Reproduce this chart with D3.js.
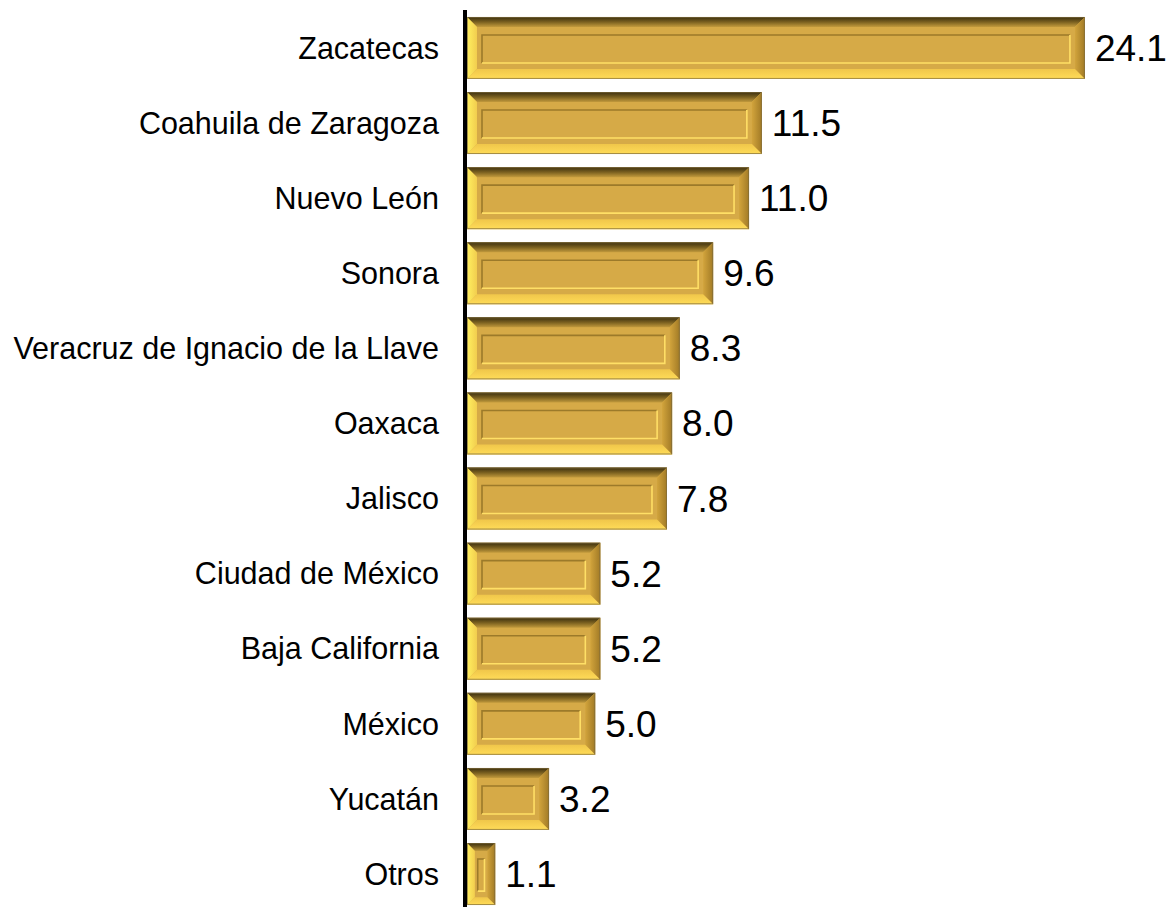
<!DOCTYPE html>
<html>
<head>
<meta charset="utf-8">
<script src="https://cdn.jsdelivr.net/npm/d3@7"></script>
<style>
  html, body { margin: 0; padding: 0; background: #fff; }
  svg { display: block; }
</style>
</head>
<body>
<svg id="chart" width="1168" height="907"></svg>
<script>
const categories = ["Zacatecas", "Coahuila de Zaragoza", "Nuevo León", "Sonora",
  "Veracruz de Ignacio de la Llave", "Oaxaca", "Jalisco", "Ciudad de México",
  "Baja California", "México", "Yucatán", "Otros"];
const values = [24.1, 11.5, 11.0, 9.6, 8.3, 8.0, 7.8, 5.2, 5.2, 5.0, 3.2, 1.1];
const valueLabels = ["24.1", "11.5", "11.0", "9.6", "8.3", "8.0", "7.8", "5.2", "5.2", "5.0", "3.2", "1.1"];

const svg = d3.select("#chart");
const W = 1168, H = 907;
const x0 = 467;
const FONT = "'Liberation Sans', Arial, sans-serif";

const x = d3.scaleLinear().domain([0, 25]).range([x0, x0 + 25 * 25.64]);
const y = d3.scaleBand().domain(categories).range([10.4, 911.6]).paddingInner(0.175).paddingOuter(0.0875);

const defs = svg.append("defs");
const gTop = defs.append("linearGradient").attr("id", "gTop").attr("x1", 0).attr("y1", 0).attr("x2", 0).attr("y2", 1);
gTop.append("stop").attr("offset", 0).attr("stop-color", "#3a2e0e");
gTop.append("stop").attr("offset", 0.5).attr("stop-color", "#7a6020");
gTop.append("stop").attr("offset", 1).attr("stop-color", "#c29a3c");
const gRight = defs.append("linearGradient").attr("id", "gRight").attr("x1", 0).attr("y1", 0).attr("x2", 1).attr("y2", 0);
gRight.append("stop").attr("offset", 0).attr("stop-color", "#d2a43c");
gRight.append("stop").attr("offset", 1).attr("stop-color", "#a17a26");
const gLeft = defs.append("linearGradient").attr("id", "gLeft").attr("x1", 0).attr("y1", 0).attr("x2", 1).attr("y2", 0);
gLeft.append("stop").attr("offset", 0).attr("stop-color", "#fff060");
gLeft.append("stop").attr("offset", 1).attr("stop-color", "#f2cd4e");
const gBottom = defs.append("linearGradient").attr("id", "gBottom").attr("x1", 0).attr("y1", 0).attr("x2", 0).attr("y2", 1);
gBottom.append("stop").attr("offset", 0).attr("stop-color", "#f0c64a");
gBottom.append("stop").attr("offset", 1).attr("stop-color", "#ffdc58");

const data = categories.map((c, i) => ({ c, v: values[i], lab: valueLabels[i] }));

const bars = svg.append("g").selectAll("g.bar").data(data).join("g")
  .attr("class", "bar")
  .attr("transform", d => `translate(${x(0)},${y(d.c)})`);

bars.each(function(d) {
  const g = d3.select(this);
  const w = x(d.v) - x(0);
  const h = y.bandwidth();
  const b = Math.min(10, w * 0.28);
  g.append("rect").attr("width", w).attr("height", h).attr("fill", "#d6aa47");
  g.append("path").attr("d", `M0,0L${w},0L${w-b},${b}L${b},${b}Z`).attr("fill", "url(#gTop)");
  g.append("path").attr("d", `M${w},0L${w},${h}L${w-b},${h-b}L${w-b},${b}Z`).attr("fill", "url(#gRight)");
  g.append("path").attr("d", `M0,${h}L${b},${h-b}L${w-b},${h-b}L${w},${h}Z`).attr("fill", "url(#gBottom)");
  g.append("path").attr("d", `M0,0L${b},${b}L${b},${h-b}L0,${h}Z`).attr("fill", "url(#gLeft)");
  // inset frame
  const mx = Math.min(5, w * 0.1), mt = 8, mb = 6;
  const ix0 = b + mx, ix1 = w - b - mx, iy0 = b + mt, iy1 = h - b - mb;
  if (ix1 > ix0) {
    g.append("path").attr("d", `M${ix0},${iy1}L${ix0},${iy0}L${ix1},${iy0}`)
      .attr("fill", "none").attr("stroke", "#9c7a2a").attr("stroke-width", 1.6);
    g.append("path").attr("d", `M${ix1},${iy0}L${ix1},${iy1}L${ix0},${iy1}`)
      .attr("fill", "none").attr("stroke", "#ffdf66").attr("stroke-width", 1.6);
  }
  g.append("rect").attr("x", 0.5).attr("y", 0.5).attr("width", w - 1).attr("height", h - 1)
    .attr("fill", "none").attr("stroke", "#7d6b3c").attr("stroke-width", 1).attr("stroke-opacity", 0.7);
});

// value labels
svg.append("g").selectAll("text").data(data).join("text")
  .attr("x", d => x(d.v) + 10)
  .attr("y", d => y(d.c) + y.bandwidth() / 2 + 13)
  .attr("font-family", FONT)
  .attr("font-size", 37)
  .attr("fill", "#000")
  .text(d => d.lab);

// category axis
const axis = d3.axisLeft(y).tickSize(0).tickPadding(26);
const ag = svg.append("g").attr("transform", `translate(${x0 - 2},0)`).call(axis);
ag.select(".domain").remove();
ag.selectAll("text")
  .attr("font-family", FONT)
  .attr("font-size", 30.5)
  .attr("fill", "#000")
  .attr("dy", "0.35em");

svg.append("line").attr("x1", x0 - 2).attr("x2", x0 - 2).attr("y1", 10).attr("y2", H)
  .attr("stroke", "#000").attr("stroke-width", 4);
</script>
</body>
</html>
